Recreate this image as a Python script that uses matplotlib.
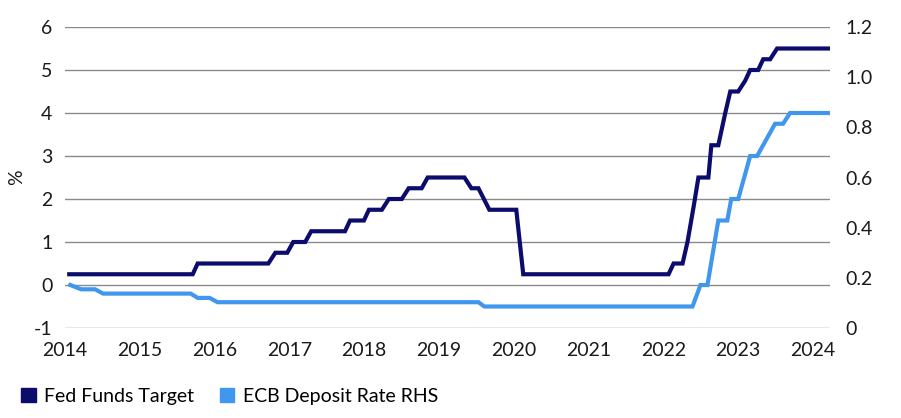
import matplotlib.pyplot as plt
from matplotlib.patches import Patch

# breakpoints (fractional year, %)
fed_x = [2014.057, 2015.708, 2015.774, 2016.719, 2016.813, 2016.972, 2017.052,
         2017.212, 2017.292, 2017.744, 2017.811, 2017.997, 2018.064, 2018.237,
         2018.330, 2018.503, 2018.596, 2018.769, 2018.849, 2019.341, 2019.434,
         2019.528, 2019.674, 2020.034, 2020.127, 2022.070, 2022.137, 2022.257,
         2022.323, 2022.403, 2022.469, 2022.602, 2022.642, 2022.735, 2022.828,
         2022.895, 2023.001, 2023.094, 2023.161, 2023.268, 2023.335, 2023.428,
         2023.521, 2024.226]
fed_y = [0.25, 0.25, 0.5, 0.5, 0.75, 0.75, 1.0,
         1.0, 1.25, 1.25, 1.5, 1.5, 1.75, 1.75,
         2.0, 2.0, 2.25, 2.25, 2.5, 2.5, 2.25,
         2.25, 1.75, 1.75, 0.25, 0.25, 0.5, 0.5,
         1.0, 1.8, 2.5, 2.5, 3.25, 3.25, 4.0,
         4.5, 4.5, 4.75, 5.0, 5.0, 5.25, 5.25,
         5.5, 5.5]

ecb_x = [2014.071, 2014.217, 2014.403, 2014.510, 2015.681, 2015.774, 2015.934,
         2016.040, 2019.528, 2019.608, 2022.390, 2022.497, 2022.590, 2022.735,
         2022.855, 2022.908, 2023.001, 2023.161, 2023.254, 2023.494, 2023.601,
         2023.694, 2024.226]
ecb_y = [0.0, -0.1, -0.1, -0.2, -0.2, -0.3, -0.3,
         -0.4, -0.4, -0.5, -0.5, 0.0, 0.0, 1.5,
         1.5, 2.0, 2.0, 3.0, 3.0, 3.75, 3.75,
         4.0, 4.0]

years = list(range(2014, 2025))
left_ticks = [-1, 0, 1, 2, 3, 4, 5, 6]
right_ticks = [0, 0.2, 0.4, 0.6, 0.8, 1.0, 1.2]
right_labels = ['0', '0.2', '0.4', '0.6', '0.8', '1.0', '1.2']

fed_col = '#0b0c6b'
ecb_col = '#4196ee'

plt.rcParams['font.family'] = ['Lato', 'DejaVu Sans']

fig = plt.figure(figsize=(9.01, 4.18), dpi=100)
ax = fig.add_axes([0.0721, 0.2153, 0.8489, 0.7201])

ax.plot(fed_x, fed_y, color=fed_col, lw=3.0, solid_joinstyle='miter', zorder=3)
ax.plot(ecb_x, ecb_y, color=ecb_col, lw=3.0, solid_joinstyle='miter', zorder=3)

ax.set_xlim(2014.044, 2024.226)
ax.set_ylim(-1, 6)
ax.set_yticks(left_ticks)
ax.set_yticklabels([str(t) for t in left_ticks])
ax.set_xticks(years)
ax.set_xticklabels([str(y) for y in years])
ax.grid(axis='y', color='#8a8a8a', lw=1)
ax.set_axisbelow(True)
for s in ax.spines.values():
    s.set_visible(False)
ax.tick_params(axis='both', length=0, labelsize=14, colors='#1a1a1a')
ax.tick_params(axis='x', pad=10)
ax.tick_params(axis='y', pad=9)
ax.set_ylabel('%', fontsize=14, color='#1a1a1a', labelpad=6)

ax2 = ax.twinx()
ax2.set_ylim(0, 1.2)
ax2.set_yticks(right_ticks)
ax2.set_yticklabels(right_labels)
for s in ax2.spines.values():
    s.set_visible(False)
ax2.tick_params(axis='y', length=0, labelsize=14, colors='#1a1a1a', pad=11)

handles = [Patch(color=fed_col, label='Fed Funds Target'),
           Patch(color=ecb_col, label='ECB Deposit Rate RHS')]
fig.legend(handles=handles, loc='lower left', bbox_to_anchor=(0.004, -0.01),
           ncol=2, frameon=False, fontsize=14, handlelength=0.75,
           handleheight=0.75, handletextpad=0.45, columnspacing=1.3)

fig.savefig('out.png', dpi=100)
